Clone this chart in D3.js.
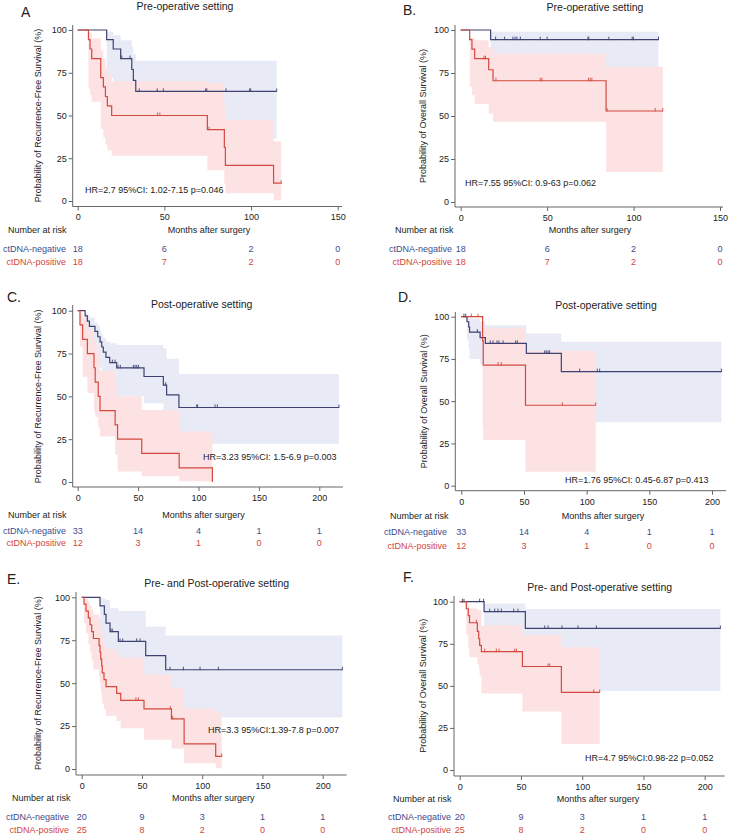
<!DOCTYPE html>
<html><head><meta charset="utf-8">
<script src="https://cdn.jsdelivr.net/npm/d3@7/dist/d3.min.js"></script>
<style>
body{margin:0;background:#fff}
svg{display:block}
text{font-family:"Liberation Sans",Arial,sans-serif}
</style>
</head><body>
<svg id="chart" width="736" height="837"></svg>
<script>
// ---------------- DATA ----------------
// step arrays: [time (months), survival %, CI lower %, CI upper %]
const letters = ["A", "B.", "C.", "D.", "E.", "F."];
const titles = ["Pre-operative setting", "Pre-operative setting", "Post-operative setting",
  "Post-operative setting", "Pre- and Post-operative setting", "Pre- and Post-operative setting"];
const yLabels = ["Probability of Recurrence-Free Survival (%)", "Probability of Overall Survival (%)",
  "Probability of Recurrence-Free Survival (%)", "Probability of Overall Survival (%)",
  "Probability of Recurrence-Free Survival (%)", "Probability of Overall Survival (%)"];
const hrTexts = ["HR=2.7 95%CI: 1.02-7.15 p=0.046", "HR=7.55 95%CI: 0.9-63 p=0.062",
  "HR=3.23 95%CI: 1.5-6.9 p=0.003", "HR=1.76 95%CI: 0.45-6.87 p=0.413",
  "HR=3.3 95%CI:1.39-7.8 p=0.007", "HR=4.7 95%CI:0.98-22 p=0.052"];
const xTicksShort = [0, 50, 100, 150];
const xTicksLong = [0, 50, 100, 150, 200];
const yTicks = [0, 25, 50, 75, 100];
const seriesNames = ["ctDNA-negative", "ctDNA-positive"];

// Panel A
const aNeg = [[0,100,100,100],[16.7,94.4,72,99],[20.5,88.9,64,97],[24.8,83.3,57,94],[31.2,76.9,50,90],[32.1,70.5,43,86],[33.5,64.1,36.6,82]];
const aNegCens = [25.4,30.2,35.5,45.9,49.4,73.8,74.5,85.6,99.2,99.8,114.8];
const aPos = [[0,100,100,100],[6.2,94.4,66,99],[7.1,88.9,62,98],[8.1,83.3,58,95],[13.3,72.2,42,88],[14.8,66.7,37,83],[16.0,61.1,33,78],[17.1,55.6,29.5,74],[19.6,50.0,26.5,70],[74.8,41.7,18,69],[84.6,31.3,10,55],[85.2,20.8,4.5,47.4],[113,10.4,0.5,35]];
const aPosCens = [46.1,47.4,75.8,117.4];
const aRiskNeg = [18, 6, 2, 0];
const aRiskPos = [18, 7, 2, 0];

// Panel B
const bNeg = [[0,100,100,100],[17.3,94.4,68,99]];
const bNegCens = [20.2,25.4,30.2,31.4,32.5,34.5,46,50,73.6,74.1,85.7,99.2,99.9,114.4];
const bPos = [[0,100,100,100],[5.2,94.4,67,96],[6.5,88.9,62,95],[8.1,83.3,57,94],[16.2,76.9,51.5,90],[18.7,70.5,46.6,86.4],[84.1,52.9,17.5,78.6]];
const bPosCens = [13.5,14.3,20.4,46,47,73.9,74.9,75.9,84.7,112.5,116.9];
const bRiskNeg = [18, 6, 2, 0];
const bRiskPos = [18, 7, 2, 0];

// Panel C
const cNeg = [[0,100,100,100],[6.1,97.0,89,99],[8.0,93.9,84,98],[9.7,90.9,80,96],[14.3,87.9,75,93],[16.6,84.8,71,91],[18.5,81.8,67,88],[19.9,78.8,64,86],[21.2,75.8,61,84],[23.4,72.7,58,82],[26.5,69.7,55,81],[32.3,66.6,50,80],[54.9,61.6,46,80],[70.9,56.5,40,78],[73.6,50.9,34,72],[83.8,43.5,22.3,63]];
const cNegCens = [28.7,30.9,33.4,35.3,46.1,47.5,48.9,50.3,72.8,98.5,99.3,113.7,115.6,216.3];
const cPos = [[0,100,100,100],[1.9,91.7,79,99],[4.1,83.3,61.5,96],[8,75,52,89],[13.5,66.7,41,83],[14.5,58.3,38,80],[17,50,32,74],[18.5,41.7,26.6,65],[31,33.3,16,56],[33,25,6.2,50],[53,16.7,3.3,42],[84,8.3,0.4,29.5],[111.5,0,0,0]];
const cPosCens = [];
const cRiskNeg = [33, 14, 4, 1, 1];
const cRiskPos = [12, 3, 1, 0, 0];

// Panel D
const dNeg = [[0,100,100,100],[4.5,97,86,100],[5.9,93.9,81,99.5],[6.6,90.9,75,99],[15,87.6,72,97],[19.2,84.2,70,95],[51.9,78.3,60,90],[79.8,67.5,37.5,85.2]];
const dNegCens = [2.1,3.5,12.8,23.1,25.3,28.5,30,33.3,43.4,44.7,66.5,67.8,69.2,70.5,94.4,108.5,110.4,207.5];
const dPos = [[0,100,100,100],[17,85.7,35,96],[17.5,71.4,27,93.1],[51.2,47.6,8.3,79.9]];
const dPosCens = [8,13.3,29.3,31.9,80.6,107.2];
const dRiskNeg = [33, 14, 4, 1, 1];
const dRiskPos = [12, 3, 1, 0, 0];

// Panel E
const eNeg = [[0,100,100,100],[15.2,95,74,99.5],[18.8,90,68,99],[20.2,85,63,98.4],[23.5,80,57,93.6],[30.4,74.3,50,92],[53.1,66,40,83],[69.7,57.8,30,77.7]];
const eNegCens = [24.3,25.4,31.8,34,45.6,48.4,73.3,84.4,98.2,113.4,216.3];
const ePos = [[0,100,100,100],[1.9,96,85,99.4],[3.6,92,79,99],[5.5,88,73,97],[6.9,84,68,95],[8.3,80,63,93],[9.7,76,58,90],[14.4,72,54,88],[15.2,68,50,85],[15.8,64,46,82],[16.6,60,42,80],[17.1,56,38,77],[18.5,52,35,74],[20.2,48,31,70],[29,44,28,67],[32.4,40,23.7,65],[51.7,35,17,55],[74.5,29.2,12,47],[85,14.6,3.3,35.3],[111.2,7.3,0.5,33]];
const ePosCens = [45,47,73.5,75.5,116.2];
const eRiskNeg = [20, 9, 3, 1, 1];
const eRiskPos = [25, 8, 2, 0, 0];

// Panel F
const fNeg = [[0,100,100,100],[19.9,94.1,75,99],[53.6,84.1,46.9,95.6]];
const fNegCens = [2.2,3.5,16.3,19.5,24.5,28.6,31.3,34,44.1,47.6,69.4,72.1,83.5,96.6,111.6,212.8];
const fPos = [[0,100,100,100],[5.4,95.8,80,99.5],[7,91.7,72,98],[8,87.5,67,96],[14.4,82.4,63,95],[15.5,78,60,95],[16.3,74,56,95],[17.7,70.3,45.5,86],[51.2,61.5,34.7,80.2],[83,46.1,15.4,72.9]];
const fPosCens = [13.6,20.4,29.9,32.1,44.9,46.3,72.1,73.5,109.4,114.3];
const fRiskNeg = [20, 9, 3, 1, 1];
const fRiskPos = [25, 8, 2, 0, 0];

// ---------------- LAYOUT (pixels) ----------------
const layouts = [
  {x0:77.7, xPx:337.7, yTop:30, yBot:201, axX:72.7, axY:206.5, axTop:25, axRight:342, tX:185, tY:10, lX:21, lY:17, hrX:85, hrY:193, ylX:38, rR:66, nrX:8, nrY:233, mX:209, r1:251.5, r2:264.5},
  {x0:460.7, xPx:720, yTop:30, yBot:202, axX:455, axY:207, axTop:25, axRight:723, tX:595, tY:11, lX:403, lY:15, hrX:465, hrY:186, ylX:423, rR:452, nrX:395, nrY:233, mX:590, r1:251.5, r2:264.5},
  {x0:77.7, xPx:319.3, yTop:310.7, yBot:482, axX:72.7, axY:487, axTop:305, axRight:343, tX:201.7, tY:307.5, lX:7, lY:302, hrX:203, hrY:460, ylX:38, rR:66, nrX:8, nrY:517.5, mX:203.5, r1:533.5, r2:546},
  {x0:461.3, xPx:712, yTop:316.7, yBot:485.7, axX:455.3, axY:490.7, axTop:312, axRight:726, tX:606, tY:308.5, lX:398, lY:302, hrX:565, hrY:482.5, ylX:424, rR:447, nrX:390, nrY:518.5, mX:603, r1:535, r2:548.5},
  {x0:81.7, xPx:322.7, yTop:597.3, yBot:769, axX:76, axY:775, axTop:592, axRight:346.7, tX:216.7, tY:586.5, lX:7, lY:584, hrX:208, hrY:732.5, ylX:38, rR:69, nrX:12, nrY:800.5, mX:213.3, r1:820, r2:832.5},
  {x0:459.7, xPx:704.7, yTop:601.7, yBot:770, axX:454, axY:776, axTop:596, axRight:724.7, tX:599.7, tY:590.5, lX:403, lY:582, hrX:585, hrY:760.5, ylX:423, rR:451, nrX:393, nrY:801.5, mX:598, r1:820, r2:832.5}
];

const panelData = [
  {ticks:xTicksShort, neg:aNeg, negC:aNegCens, pos:aPos, posC:aPosCens, rn:aRiskNeg, rp:aRiskPos},
  {ticks:xTicksShort, neg:bNeg, negC:bNegCens, pos:bPos, posC:bPosCens, rn:bRiskNeg, rp:bRiskPos},
  {ticks:xTicksLong, neg:cNeg, negC:cNegCens, pos:cPos, posC:cPosCens, rn:cRiskNeg, rp:cRiskPos},
  {ticks:xTicksLong, neg:dNeg, negC:dNegCens, pos:dPos, posC:dPosCens, rn:dRiskNeg, rp:dRiskPos},
  {ticks:xTicksLong, neg:eNeg, negC:eNegCens, pos:ePos, posC:ePosCens, rn:eRiskNeg, rp:eRiskPos},
  {ticks:xTicksLong, neg:fNeg, negC:fNegCens, pos:fPos, posC:fPosCens, rn:fRiskNeg, rp:fRiskPos}
];

const C = {
  negLine:"#3d4272", posLine:"#d4483f",
  negBand:"#e8ebf5", posBand:"#fde2e4",
  negText:"#3e4c8e", posText:"#d0463c",
  axis:"#666", text:"#222"
};

const svg = d3.select("#chart");

function stepValue(steps, t){
  let s = steps[0][1];
  for (const p of steps) { if (p[0] <= t) s = p[1]; }
  return s;
}

panelData.forEach((pd, i) => {
  const L = layouts[i];
  const xMax = pd.ticks[pd.ticks.length - 1];
  const x = d3.scaleLinear().domain([0, xMax]).range([L.x0, L.xPx]);
  const y = d3.scaleLinear().domain([0, 100]).range([L.yBot, L.yTop]);
  const g = svg.append("g");

  function withEnd(steps, cens){
    const pts = steps.slice();
    const last = pts[pts.length - 1];
    const end = cens.length ? Math.max(d3.max(cens), last[0]) : last[0];
    if (end > last[0]) pts.push([end, last[1], last[2], last[3]]);
    return pts;
  }
  const negPts = withEnd(pd.neg, pd.negC);
  const posPts = withEnd(pd.pos, pd.posC);

  const area = d3.area().curve(d3.curveStepAfter)
    .x(d => x(d[0])).y0(d => y(d[2])).y1(d => y(d[3]));
  const line = d3.line().curve(d3.curveStepAfter)
    .x(d => x(d[0])).y(d => y(d[1]));

  g.append("path").attr("d", area(negPts)).attr("fill", C.negBand);
  g.append("path").attr("d", area(posPts)).attr("fill", C.posBand);

  g.append("path").attr("d", line(negPts)).attr("fill", "none")
    .attr("stroke", C.negLine).attr("stroke-width", 1.2);
  g.append("path").attr("d", line(posPts)).attr("fill", "none")
    .attr("stroke", C.posLine).attr("stroke-width", 1.2);

  // censor marks
  g.selectAll(null).data(pd.negC).enter().append("line")
    .attr("x1", d => x(d)).attr("x2", d => x(d))
    .attr("y1", d => y(stepValue(pd.neg, d)) - 3).attr("y2", d => y(stepValue(pd.neg, d)) + 0.5)
    .attr("stroke", C.negLine).attr("stroke-width", 0.9);
  g.selectAll(null).data(pd.posC).enter().append("line")
    .attr("x1", d => x(d)).attr("x2", d => x(d))
    .attr("y1", d => y(stepValue(pd.pos, d)) - 3).attr("y2", d => y(stepValue(pd.pos, d)) + 0.5)
    .attr("stroke", C.posLine).attr("stroke-width", 0.9);

  // axes
  const yAx = g.append("g").attr("transform", `translate(${L.axX},0)`)
    .call(d3.axisLeft(y).tickValues(yTicks).tickSize(4).tickPadding(2).tickSizeOuter(0));
  const xAx = g.append("g").attr("transform", `translate(0,${L.axY})`)
    .call(d3.axisBottom(x).tickValues(pd.ticks).tickSize(4).tickPadding(3.5).tickSizeOuter(0));
  [yAx, xAx].forEach(a => {
    a.select(".domain").remove();
    a.selectAll(".tick line").attr("stroke", C.axis);
    a.selectAll(".tick text").attr("fill", C.text).style("font-size", "9px")
      .style("font-family", '"Liberation Sans", Arial, sans-serif');
  });
  g.append("line").attr("x1", L.axX).attr("x2", L.axX).attr("y1", L.axTop).attr("y2", L.axY)
    .attr("stroke", C.axis).attr("stroke-width", 1);
  g.append("line").attr("x1", L.axX).attr("x2", L.axRight).attr("y1", L.axY).attr("y2", L.axY)
    .attr("stroke", C.axis).attr("stroke-width", 1);

  // texts
  g.append("text").attr("x", L.lX).attr("y", L.lY).text(letters[i])
    .attr("fill", C.text).style("font-size", "14px");
  g.append("text").attr("x", L.tX).attr("y", L.tY).attr("text-anchor", "middle")
    .text(titles[i]).attr("fill", C.text).style("font-size", "10.5px");
  g.append("text").attr("x", L.hrX).attr("y", L.hrY).text(hrTexts[i])
    .attr("fill", C.text).style("font-size", "9px");
  g.append("text")
    .attr("transform", `translate(${L.ylX},${(L.yTop + L.yBot) / 2}) rotate(-90)`)
    .attr("text-anchor", "middle").attr("dy", "0.35em")
    .text(yLabels[i]).attr("fill", C.text).style("font-size", "9px");

  // risk table
  g.append("text").attr("x", L.nrX).attr("y", L.nrY).text("Number at risk")
    .attr("fill", C.text).style("font-size", "9px");
  g.append("text").attr("x", L.mX).attr("y", L.nrY).attr("text-anchor", "middle")
    .text("Months after surgery").attr("fill", C.text).style("font-size", "9px");
  g.append("text").attr("x", L.rR).attr("y", L.r1).attr("text-anchor", "end")
    .text(seriesNames[0]).attr("fill", C.negText).style("font-size", "9px");
  g.append("text").attr("x", L.rR).attr("y", L.r2).attr("text-anchor", "end")
    .text(seriesNames[1]).attr("fill", C.posText).style("font-size", "9px");
  g.selectAll(null).data(pd.rn).enter().append("text")
    .attr("x", (d, k) => x(pd.ticks[k])).attr("y", L.r1).attr("text-anchor", "middle")
    .text(d => d).attr("fill", C.negText).style("font-size", "9px");
  g.selectAll(null).data(pd.rp).enter().append("text")
    .attr("x", (d, k) => x(pd.ticks[k])).attr("y", L.r2).attr("text-anchor", "middle")
    .text(d => d).attr("fill", C.posText).style("font-size", "9px");
});
</script>
</body></html>
